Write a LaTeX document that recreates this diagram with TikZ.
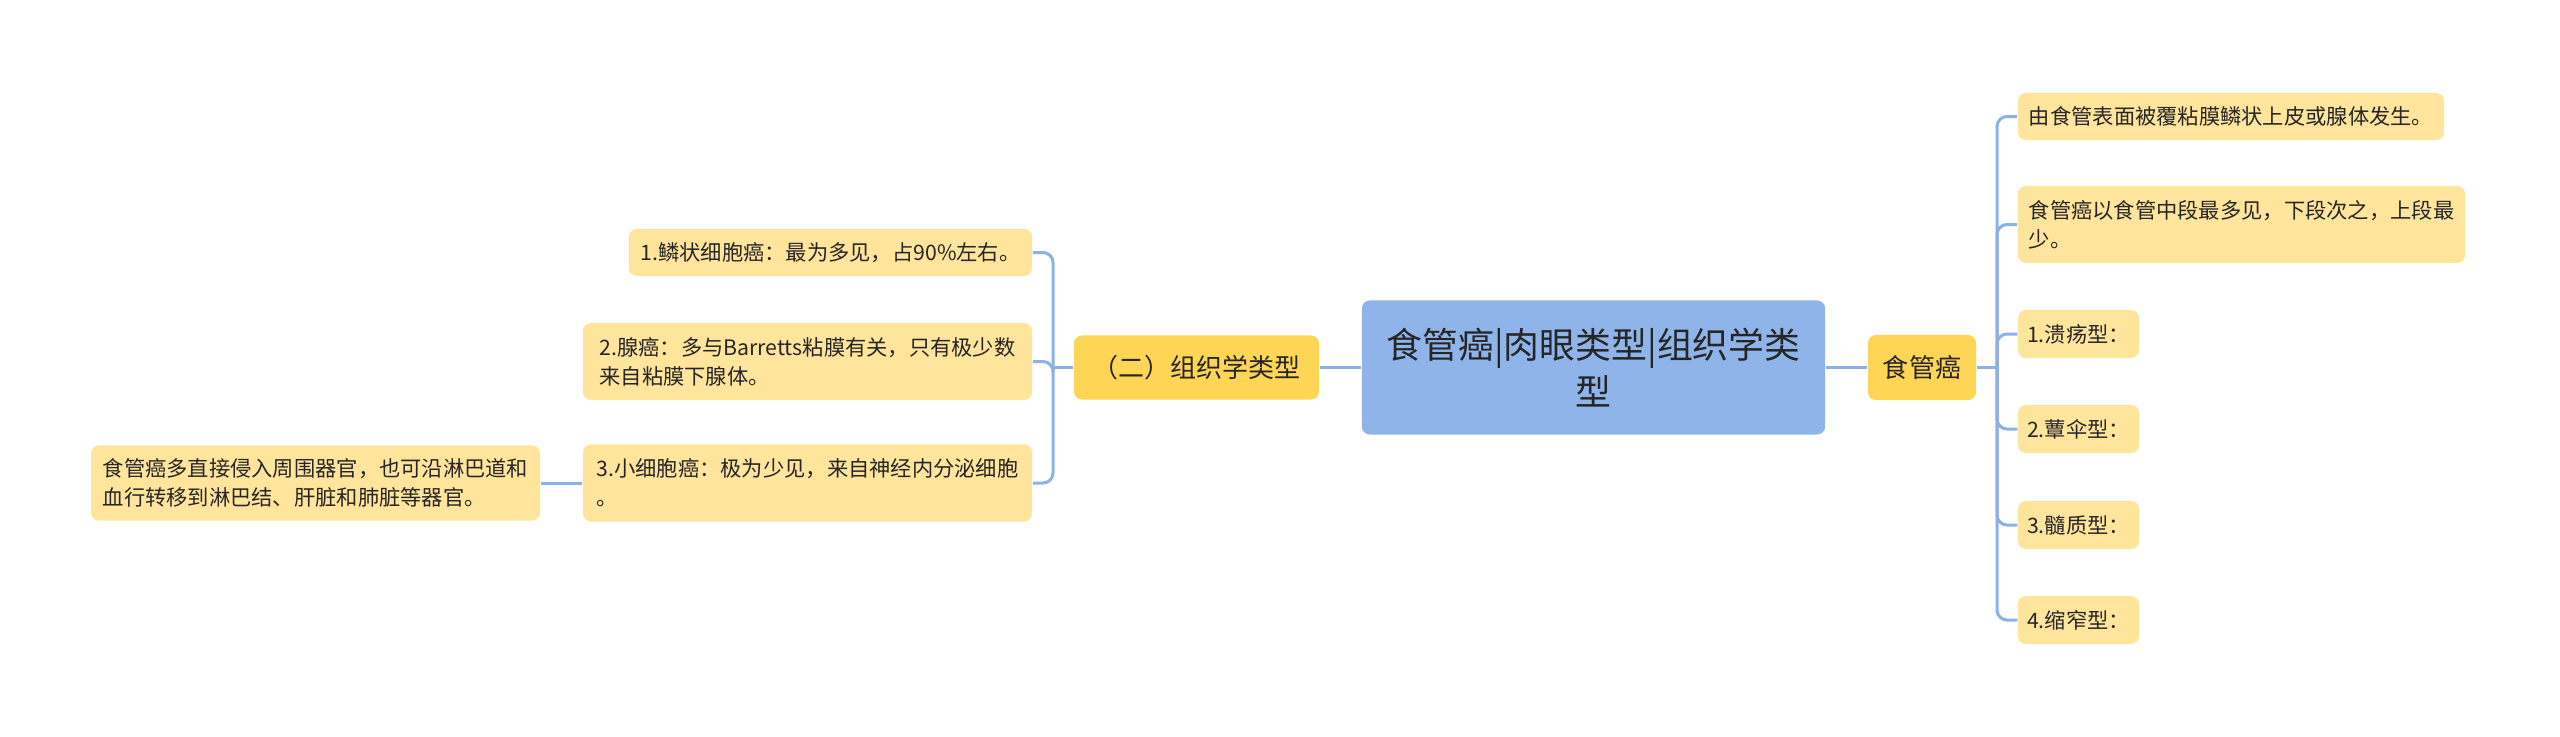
\documentclass[tikz,border=0pt]{standalone}
\usepackage{fontspec}
\setmainfont{Noto Sans CJK SC}
\usepackage{xcolor}
\definecolor{rootblue}{HTML}{8FB4EA}
\definecolor{mainyellow}{HTML}{FFD556}
\definecolor{leafyellow}{HTML}{FFE49C}
\definecolor{linkblue}{HTML}{8CB0E8}

\begin{document}
\begin{tikzpicture}[x=0.01cm,y=-0.01cm,
  mapbox/.style={rounded corners=0.08cm,inner sep=0pt,text=black!85},
  rootbox/.style={mapbox,fill=rootblue,font=\fontsize{10.2}{13.4}\selectfont,align=center},
  midbox/.style={mapbox,fill=mainyellow,font=\fontsize{7.4}{9}\selectfont},
  leafbox/.style={mapbox,fill=leafyellow,font=\fontsize{6.05}{8.25}\selectfont,align=left},
  link/.style={linkblue,line width=0.03cm,rounded corners=0.1cm}]
 \useasboundingbox (0,0) rectangle (2560,736);
 % centre
 \node[rootbox,minimum width=4.63cm,minimum height=1.34cm] (root) at (1593.5,367.5) {食管癌|肉眼类型|组织学类\\型};
 \node[midbox,minimum width=1.08cm,minimum height=0.65cm] (eso) at (1922,367.5) {食管癌};
 \node[midbox,minimum width=2.45cm,minimum height=0.64cm] (hist) at (1196.5,367.5) {（二）组织学类型};
 % right branch
 \node[leafbox,minimum width=4.26cm,minimum height=0.47cm] (r1) at (2231,116.5) {由食管表面被覆粘膜鳞状上皮或腺体发生。};
 \node[leafbox,minimum width=4.47cm,minimum height=0.77cm] (r2) at (2241.5,224.5) {食管癌以食管中段最多见，下段次之，上段最\\少。};
 \node[leafbox,minimum width=1.21cm,minimum height=0.48cm] (r3) at (2078.5,334) {1.溃疡型：};
 \node[leafbox,minimum width=1.21cm,minimum height=0.48cm] (r4) at (2078.5,429) {2.蕈伞型：};
 \node[leafbox,minimum width=1.21cm,minimum height=0.48cm] (r5) at (2078.5,525) {3.髓质型：};
 \node[leafbox,minimum width=1.21cm,minimum height=0.48cm] (r6) at (2078.5,620) {4.缩窄型：};
 % left branch
 \node[leafbox,minimum width=4.03cm,minimum height=0.47cm] (l1) at (830.5,252.5) {1.鳞状细胞癌：最为多见，占90\%左右。};
 \node[leafbox,minimum width=4.49cm,minimum height=0.77cm] (l2) at (807.5,361.5) {2.腺癌：多与Barretts粘膜有关，只有极少数\\来自粘膜下腺体。};
 \node[leafbox,minimum width=4.49cm,minimum height=0.77cm] (l3) at (807.5,483) {3.小细胞癌：极为少见，来自神经内分泌细胞\\。};
 \node[leafbox,minimum width=4.49cm,minimum height=0.75cm] (ll) at (315.5,483) {食管癌多直接侵入周围器官，也可沿淋巴道和\\血行转移到淋巴结、肝脏和肺脏等器官。};
 % links
 \coordinate (rj) at (1997,367.5);
 \coordinate (lj) at (1053,367.5);
 \draw[link] (root.east) -- (eso.west);
 \draw[link] (root.west) -- (hist.east);
 \draw[link] (eso.east) -- (rj);
 \foreach \c in {r1,r2,r3,r4,r5,r6}
  \draw[link] (rj) |- (\c.west);
 \draw[link] (hist.west) -- (lj);
 \foreach \c in {l1,l2,l3}
  \draw[link] (lj) |- (\c.east);
 \draw[link] (l3.west) -- (ll.east);
\end{tikzpicture}
\end{document}
